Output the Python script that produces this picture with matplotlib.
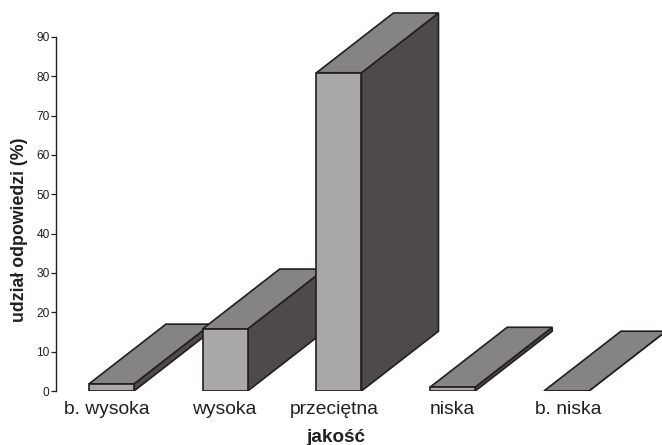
"""
Bar chart with hand-built 3D boxes: share of answers per quality rating.
"""

import matplotlib
matplotlib.use("Agg")
import matplotlib.pyplot as plt
from matplotlib.patches import Polygon

categories = ["b. wysoka", "wysoka", "przeciętna", "niska", "b. niska"]
values = [1.8, 15.8, 80.9, 1.0, 0.0]
y_ticks = [0, 10, 20, 30, 40, 50, 60, 70, 80, 90]

# House style
FRONT = "#A9A8A6"
TOP = "#868384"
SIDE = "#4E4A49"
EDGE = "#231F20"
TEXT = "#231F20"

BAR_WIDTH = 0.396
DEPTH_X = 0.677
DEPTH_Y = 15.2
# category labels are not quite centred under their bars
LABEL_SHIFT = [-0.04, -0.01, -0.04, 0.0, 0.018]

W, H = 662, 445
AX_LEFT, AX_BOTTOM = 55.5, 54

plt.rcParams["font.family"] = ["Liberation Sans", "DejaVu Sans"]

fig = plt.figure(figsize=(W / 100, H / 100), dpi=100)
ax = fig.add_axes([AX_LEFT / W, AX_BOTTOM / H, 1 - AX_LEFT / W, 1 - AX_BOTTOM / H])
ax.set_xlim(-0.492, 4.84)
ax.set_ylim(0, 99.4)


def draw_box(ax, pos, value):
    """Draw one bar as front, side and top faces, using the bar value as height."""
    x0 = pos - BAR_WIDTH / 2
    x1 = pos + BAR_WIDTH / 2
    side = [(x1, 0), (x1 + DEPTH_X, DEPTH_Y), (x1 + DEPTH_X, value + DEPTH_Y), (x1, value)]
    top = [(x0, value), (x0 + DEPTH_X, value + DEPTH_Y), (x1 + DEPTH_X, value + DEPTH_Y), (x1, value)]
    front = [(x0, 0), (x0, value), (x1, value), (x1, 0)]
    for pts, color in ((side, SIDE), (top, TOP), (front, FRONT)):
        ax.add_patch(Polygon(pts, closed=True, facecolor=color, edgecolor=EDGE,
                             linewidth=1.2, joinstyle="miter"))


for i, value in enumerate(values):
    draw_box(ax, i, value)

ax.patch.set_visible(False)
ax.spines[["top", "right", "bottom"]].set_visible(False)
ax.spines["left"].set_bounds(0, 90)
ax.spines["left"].set_color(EDGE)
ax.spines["left"].set_linewidth(1.0)

ax.set_yticks(y_ticks)
ax.tick_params(axis="y", length=3.8, width=0.9, color=EDGE, labelcolor=TEXT,
               labelsize=8.6, pad=0.5)
ax.set_xticks([i + s for i, s in enumerate(LABEL_SHIFT)], categories)
ax.tick_params(axis="x", length=0, labelcolor=TEXT, labelsize=13.9, pad=7)

fig.text(336 / W, 1 - 437.5 / H, "jakość", fontsize=13.6, fontweight="bold",
         color=TEXT, ha="center", va="center")
fig.text(20 / W, 1 - 230 / H, "udział odpowiedzi (%)", fontsize=12.8, fontweight="bold",
         color=TEXT, ha="center", va="center", rotation=90)

fig.savefig("out.png", dpi=100)
